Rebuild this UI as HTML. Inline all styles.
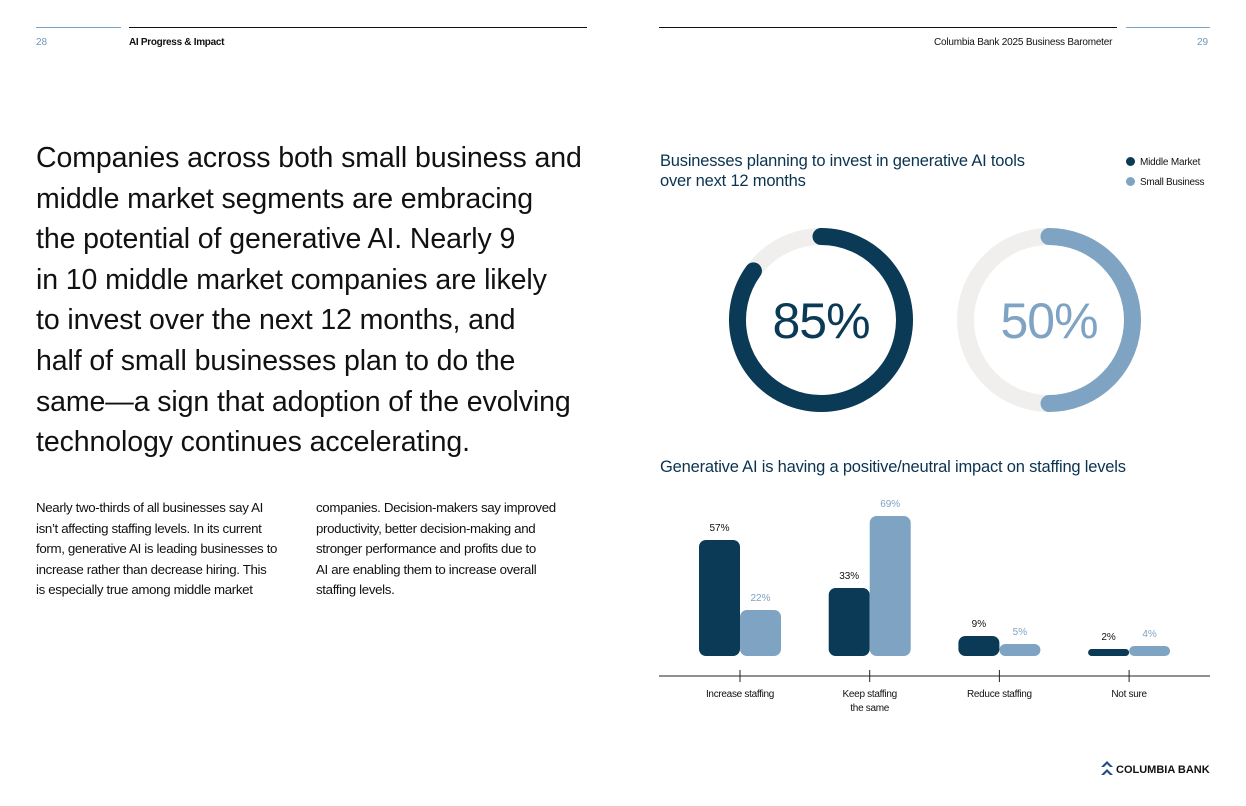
<!DOCTYPE html>
<html><head><meta charset="utf-8">
<style>
body{margin:0;width:1246px;height:806px;background:#fff;font-family:"Liberation Sans",sans-serif;position:relative;overflow:hidden;color:#111}
.abs{position:absolute}
.hl{position:absolute;height:1px}
.small{font-size:10px}
h1{position:absolute;left:36px;top:138px;margin:0;font-weight:normal;font-size:28.5px;line-height:40.6px;color:#111;white-space:nowrap;letter-spacing:-0.1px}
.body{position:absolute;top:498px;font-size:13.3px;line-height:20.5px;color:#111;white-space:nowrap;letter-spacing:-0.35px}
.title{position:absolute;font-size:16.5px;line-height:20px;color:#0a3350;letter-spacing:-0.2px}
</style></head><body>
<div class="hl" style="left:36px;top:27px;width:85px;background:#7fa3c2"></div>
<div class="hl" style="left:129px;top:27px;width:458px;background:#111"></div>
<div class="hl" style="left:659px;top:27px;width:458px;background:#111"></div>
<div class="hl" style="left:1126px;top:27px;width:84px;background:#7fa3c2"></div>
<div class="abs small" style="left:36px;top:37px;color:#6f97bb">28</div>
<div class="abs small" style="left:129px;top:37px;font-weight:bold;letter-spacing:-0.3px">AI Progress &amp; Impact</div>
<div class="abs small" style="left:934px;top:37px;letter-spacing:-0.2px">Columbia Bank 2025 Business Barometer</div>
<div class="abs small" style="left:1197px;top:37px;color:#6f97bb">29</div>

<h1>Companies across both small business and<br>middle market segments are embracing<br>the potential of generative AI. Nearly 9<br>in 10 middle market companies are likely<br>to invest over the next 12 months, and<br>half of small businesses plan to do the<br>same—a sign that adoption of the evolving<br>technology continues accelerating.</h1>

<div class="body" style="left:36px">Nearly two-thirds of all businesses say AI<br>isn’t affecting staffing levels. In its current<br>form, generative AI is leading businesses to<br>increase rather than decrease hiring. This<br>is especially true among middle market</div>
<div class="body" style="left:316px">companies. Decision-makers say improved<br>productivity, better decision-making and<br>stronger performance and profits due to<br>AI are enabling them to increase overall<br>staffing levels.</div>

<div class="title" style="left:660px;top:151px">Businesses planning to invest in generative AI tools<br>over next 12 months</div>
<div class="abs" style="left:1126px;top:157px;font-size:10px;letter-spacing:-0.2px"><span style="display:inline-block;width:9px;height:9px;border-radius:50%;background:#0a3a55;margin-right:5px;vertical-align:-1px"></span>Middle Market</div>
<div class="abs" style="left:1126px;top:177px;font-size:10px;letter-spacing:-0.3px"><span style="display:inline-block;width:9px;height:9px;border-radius:50%;background:#7fa3c2;margin-right:5px;vertical-align:-1px"></span>Small Business</div>

<div class="title" style="left:660px;top:457px">Generative AI is having a positive/neutral impact on staffing levels</div>

<svg class="abs" style="left:0;top:0" width="1246" height="806" id="chart"></svg>

<div class="abs" style="left:1100px;top:759px;font-size:11px;font-weight:bold;letter-spacing:0"><svg width="14" height="18" style="vertical-align:-4px;margin-right:2px"><path d="M1 8 L7 2 L13 8 L10 8 L7 5 L4 8Z M1 16 L7 10 L13 16 L10 16 L7 13 L4 16Z" fill="#1f4f86"/></svg>COLUMBIA BANK</div>

<script>
const donutLabels=["Middle Market","Small Business"];
const donutValues=[85,50];
const categories=[["Increase staffing"],["Keep staffing","the same"],["Reduce staffing"],["Not sure"]];
const middleMarket=[57,33,9,2];
const smallBusiness=[22,69,5,4];
const NS="http://www.w3.org/2000/svg";
const svg=document.getElementById("chart");
const dark="#0a3a55",light="#7fa3c2";
function mk(t,a){const e=document.createElementNS(NS,t);for(const k in a)e.setAttribute(k,a[k]);svg.appendChild(e);return e;}
const cxs=[821,1049],cy=320,r=83.5,sw=17;
donutValues.forEach((v,i)=>{
  const col=i===0?dark:light;
  const tr=mk("circle",{cx:cxs[i],cy:cy,r:r,fill:"none",stroke:"#f0efed","stroke-width":sw});
  
  
  const a=v/100*2*Math.PI;
  const x0=cxs[i],y0=cy-r,x1=cxs[i]+r*Math.sin(a),y1=cy-r*Math.cos(a);
  const p=mk("path",{d:`M${x0} ${y0} A${r} ${r} 0 ${a>Math.PI?1:0} 1 ${x1} ${y1}`,fill:"none",stroke:col,"stroke-width":sw,"stroke-linecap":"round"});
  
  
  const t=mk("text",{x:cxs[i],y:cy+18,"text-anchor":"middle","font-size":50,fill:col,"font-family":"Liberation Sans, sans-serif","letter-spacing":"-1"});
  t.textContent=v+"%";
  
  
});
const base=656,scale=2.0,bw=41,x0=740,step=129.7;
function xc(i){return x0+i*step;}
function yh(v){return Math.max(v*scale+2,7);}
const ax=mk("line",{x1:659,x2:1210,y1:676,y2:676,stroke:"#222","stroke-width":1});


categories.forEach((c,i)=>{
  const tk=mk("line",{x1:xc(i),x2:xc(i),y1:670,y2:682,stroke:"#222"});
  
  
  c.forEach((ln,j)=>{const t=mk("text",{x:xc(i),y:697+j*14,"text-anchor":"middle","font-size":10,fill:"#111","letter-spacing":"-0.3"});t.textContent=ln;
  
  });
  [[middleMarket[i],dark,-bw,"#111"],[smallBusiness[i],light,0,light]].forEach(([v,col,off,tc],k)=>{
    const h=yh(v);
    const b=mk("rect",{x:xc(i)+off,y:base-h,width:bw,height:h,rx:Math.min(7,h/2),fill:col});
    
    
    const t=mk("text",{x:xc(i)+off+bw/2,y:base-h-9,"text-anchor":"middle","font-size":10,fill:tc});
    t.textContent=v+"%";
    
    
  });
});
</script>
</body></html>
